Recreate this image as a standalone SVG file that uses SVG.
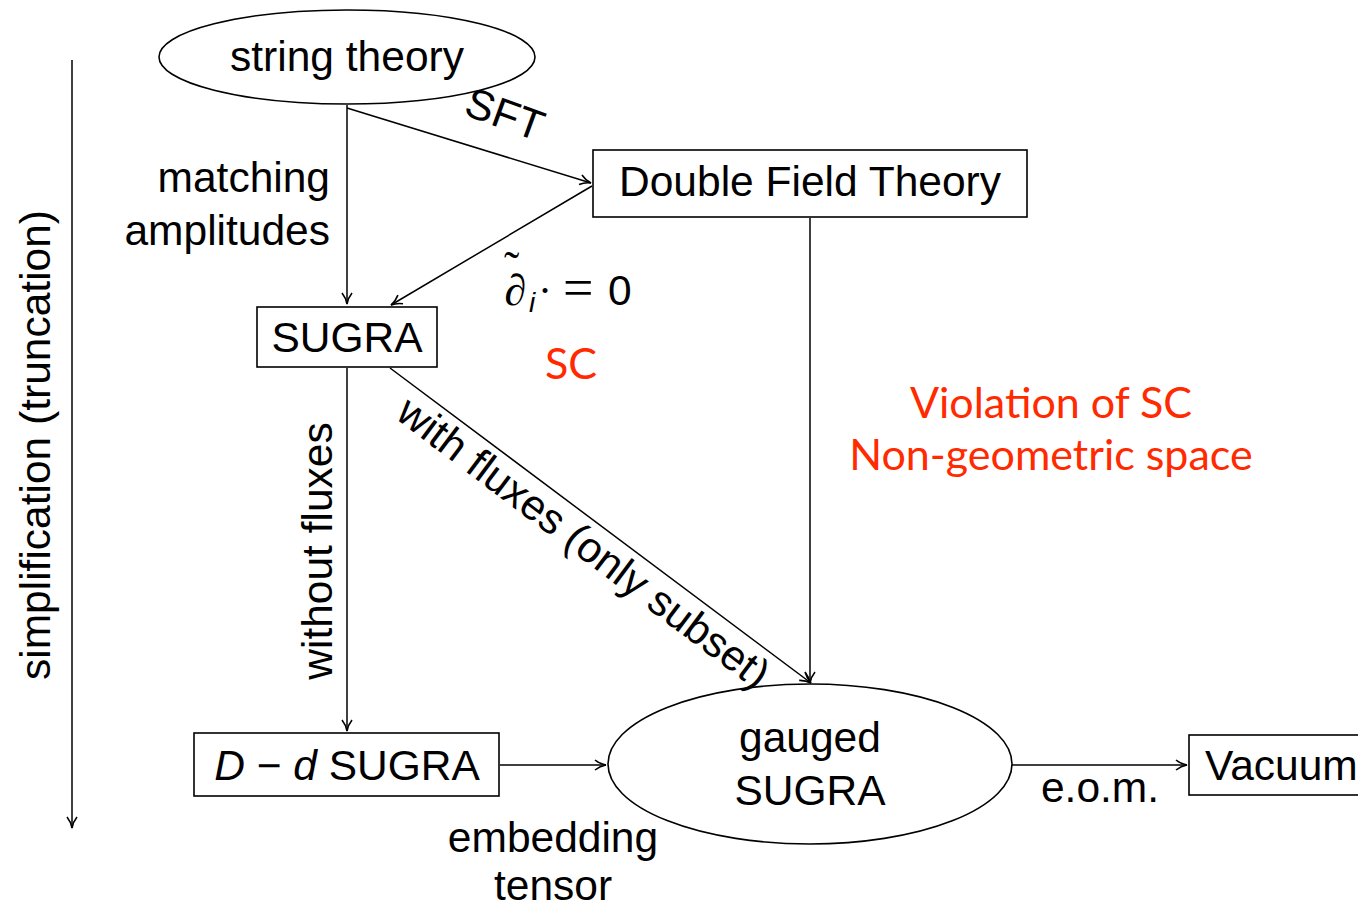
<svg xmlns="http://www.w3.org/2000/svg" width="1358" height="909" viewBox="0 0 1358 909">
<defs>
<marker id="arr" markerWidth="14" markerHeight="12" refX="12" refY="6" orient="auto" markerUnits="userSpaceOnUse">
<path d="M1,1 Q6,5 12,6 Q6,7 1,11" fill="none" stroke="#000" stroke-width="1.6"/>
</marker>
<style>
.t{font-family:"Liberation Sans",Arial,sans-serif;font-size:42.5px;fill:#000}
.r{font-family:Lato,"Open Sans",sans-serif;font-size:43px;fill:#ff2a00}
.s{fill:#fff;stroke:#000;stroke-width:1.6}
.c{fill:none;stroke:#000;stroke-width:1.5;marker-end:url(#arr)}
.m{font-family:"Liberation Serif","DejaVu Serif",serif;fill:#000}
</style>
</defs>
<rect width="1358" height="909" fill="#fff"/>
<g id="connectors">
<line class="c" x1="72" y1="60" x2="72" y2="828"/>
<line class="c" x1="347" y1="105" x2="347" y2="304"/>
<line class="c" x1="347" y1="108" x2="591" y2="183"/>
<line class="c" x1="592" y1="186" x2="391" y2="305"/>
<line class="c" x1="810" y1="218" x2="810" y2="683"/>
<line class="c" x1="390" y1="368" x2="811" y2="683"/>
<line class="c" x1="347" y1="368" x2="347" y2="731"/>
<line class="c" x1="500" y1="765" x2="606" y2="765"/>
<line class="c" x1="1012" y1="765" x2="1187" y2="765"/>
</g>
<g id="string-theory">
<ellipse class="s" cx="347" cy="57" rx="188" ry="47"/>
<text class="t" x="347" y="71" text-anchor="middle">string theory</text>
</g>
<g id="dft">
<rect class="s" x="593" y="150" width="434" height="67"/>
<text class="t" x="810" y="196" text-anchor="middle">Double Field Theory</text>
</g>
<g id="sugra">
<rect class="s" x="257" y="307" width="180" height="60"/>
<text class="t" x="347" y="352" text-anchor="middle">SUGRA</text>
</g>
<g id="dd-sugra">
<rect class="s" x="194" y="733" width="305" height="63"/>
<text class="t" x="347" y="780" text-anchor="middle"><tspan font-style="italic">D</tspan> − <tspan font-style="italic">d</tspan> SUGRA</text>
</g>
<g id="gauged-sugra">
<ellipse class="s" cx="810" cy="764" rx="202" ry="80"/>
<text class="t" x="810" y="752" text-anchor="middle">gauged</text>
<text class="t" x="810" y="805" text-anchor="middle">SUGRA</text>
</g>
<g id="vacuum">
<rect class="s" x="1189" y="735" width="180" height="60"/>
<text class="t" x="1205" y="780">Vacuum</text>
</g>
<g id="labels">
<text class="t" transform="translate(500,128) rotate(20)" text-anchor="middle">SFT</text>
<text class="t" x="330" y="192" text-anchor="end">matching</text>
<text class="t" x="330" y="245" text-anchor="end">amplitudes</text>
<g id="sc-condition">
<text class="m" x="504" y="305" font-style="italic" font-size="44px">∂<tspan dx="-22" dy="-22" font-style="normal" font-size="46px">˜</tspan></text>
<text x="529" y="312" font-family="Liberation Sans,sans-serif" font-style="italic" font-size="28px">i</text>
<text class="m" x="538" y="305" font-size="42px">·</text>
<text class="m" x="563" y="306" font-size="54px">=</text>
<text class="t" x="608" y="305">0</text>
</g>
<text class="r" x="571" y="379" text-anchor="middle">SC</text>
<text class="r" x="1051" y="418" text-anchor="middle">Violation of SC</text>
<text class="r" x="1051" y="470" text-anchor="middle">Non-geometric space</text>
<text class="t" transform="translate(332,551) rotate(-90)" text-anchor="middle">without fluxes</text>
<text class="t" transform="translate(575,554) rotate(37)" text-anchor="middle">with fluxes (only subset)</text>
<text class="t" x="553" y="852" text-anchor="middle">embedding</text>
<text class="t" x="553" y="900" text-anchor="middle">tensor</text>
<text class="t" x="1100" y="802" text-anchor="middle">e.o.m.</text>
<text class="t" transform="translate(50,445) rotate(-90)" text-anchor="middle">simplification (truncation)</text>
</g>
</svg>
